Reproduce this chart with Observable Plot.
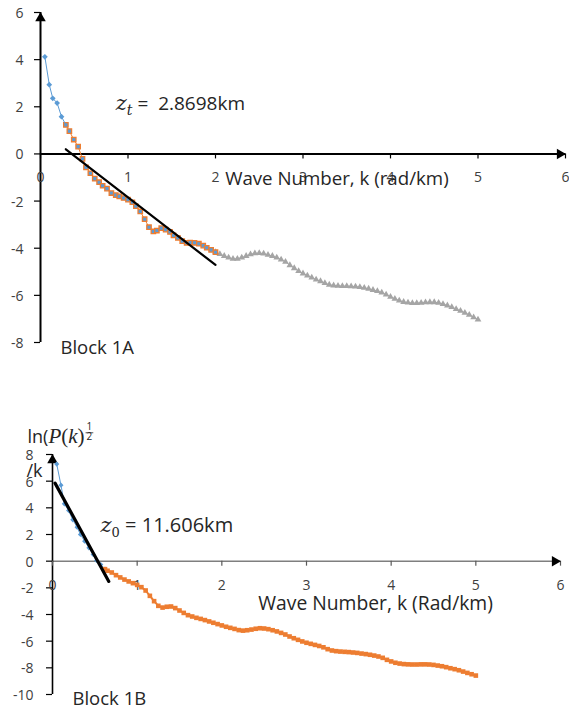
<!DOCTYPE html>
<html>
<head>
<meta charset="utf-8">
<script src="https://cdn.jsdelivr.net/npm/d3@7"></script>
<script src="https://cdn.jsdelivr.net/npm/@observablehq/plot@0.6"></script>
<style>
  html, body { margin: 0; padding: 0; background: #fff; }
  #wrap { position: relative; width: 569px; height: 715px; overflow: hidden; font-family: "Open Sans", sans-serif; }
  #wrap > svg { position: absolute; left: 0; }
</style>
</head>
<body>
<div id="wrap"></div>
<script>
// ---------- shared axis setup ----------
const xDomain = [0, 6];
const xTicks = [0, 1, 2, 3, 4, 5, 6];

// ---------- Block 1A : ln spectrum vs wavenumber ----------
const yDomainA = [-8, 6];
const yTicksA = [-8, -6, -4, -2, 0, 2, 4, 6];

// lowest wavenumbers
const kA1  = [0.05, 0.10, 0.14, 0.19, 0.24, 0.29];
const lnA1 = [4.12, 2.94, 2.36, 2.16, 1.58, 1.23];

// band used for the top-depth fit
const kA2  = [0.29, 0.33, 0.38, 0.43, 0.48, 0.52, 0.57, 0.62, 0.67, 0.71, 0.76, 0.81, 0.86, 0.90, 0.95, 1.00, 1.05, 1.09, 1.14, 1.19,
              1.24, 1.29, 1.33, 1.38, 1.43, 1.48, 1.52, 1.57, 1.62, 1.67, 1.71, 1.76, 1.81, 1.86, 1.90, 1.95, 2.00];
const lnA2 = [1.23, 0.97, 0.61, 0.31, -0.21, -0.57, -0.82, -1.05, -1.20, -1.35, -1.47, -1.66, -1.75, -1.80, -1.87, -1.94, -2.05, -2.22, -2.44, -2.77,
              -3.11, -3.29, -3.25, -3.15, -3.21, -3.31, -3.46, -3.56, -3.70, -3.77, -3.76, -3.77, -3.81, -3.89, -3.98, -4.07, -4.17];

// high-wavenumber tail
const kA3  = [2.00, 2.05, 2.10, 2.15, 2.20, 2.25, 2.30, 2.35, 2.40, 2.45, 2.50, 2.55, 2.60, 2.65, 2.70, 2.75, 2.80, 2.85, 2.90, 2.95,
              3.00, 3.05, 3.10, 3.15, 3.20, 3.25, 3.30, 3.35, 3.40, 3.45, 3.50, 3.55, 3.60, 3.65, 3.70, 3.75, 3.80, 3.85, 3.90, 3.95,
              4.00, 4.05, 4.10, 4.15, 4.20, 4.25, 4.30, 4.35, 4.40, 4.45, 4.50, 4.55, 4.60, 4.65, 4.70, 4.75, 4.80, 4.85, 4.90, 4.95, 5.00];
const lnA3 = [-4.17, -4.25, -4.33, -4.40, -4.45, -4.45, -4.40, -4.33, -4.26, -4.22, -4.21, -4.23, -4.28, -4.33, -4.40, -4.48, -4.58, -4.72, -4.85, -4.97,
              -5.07, -5.16, -5.25, -5.33, -5.40, -5.48, -5.55, -5.58, -5.60, -5.61, -5.61, -5.62, -5.63, -5.65, -5.68, -5.72, -5.77, -5.82, -5.88, -5.97,
              -6.06, -6.15, -6.22, -6.28, -6.31, -6.33, -6.33, -6.32, -6.30, -6.29, -6.29, -6.32, -6.37, -6.43, -6.50, -6.58, -6.66, -6.74, -6.83, -6.93, -7.03];

// straight-line fit: slope = -z_t
const zt = 2.8698;
const fitAIntercept = 1.03;
const fitAk = [0.29, 2.00];

// ---------- Block 1B ----------
const yDomainB = [-10, 8];
const yTicksB = [-10, -8, -6, -4, -2, 0, 2, 4, 6, 8];

// band used for the centroid fit
const kB1  = [0.05, 0.10, 0.14, 0.19, 0.24, 0.29, 0.33, 0.38, 0.43, 0.48, 0.52, 0.57, 0.62];
const lnB1 = [7.28, 5.70, 4.30, 3.80, 3.10, 2.55, 2.00, 1.50, 1.00, 0.50, 0.05, -0.25, -0.60];

const kB2  = [0.62, 0.65, 0.70, 0.75, 0.80, 0.85, 0.90, 0.95, 1.00, 1.05, 1.10, 1.15, 1.20, 1.25, 1.30, 1.35, 1.40, 1.45, 1.50, 1.55,
              1.60, 1.65, 1.70, 1.75, 1.80, 1.85, 1.90, 1.95, 2.00, 2.05, 2.10, 2.15, 2.20, 2.25, 2.30, 2.35, 2.40, 2.45, 2.50, 2.55,
              2.60, 2.65, 2.70, 2.75, 2.80, 2.85, 2.90, 2.95, 3.00, 3.05, 3.10, 3.15, 3.20, 3.25, 3.30, 3.35, 3.40, 3.45, 3.50, 3.55,
              3.60, 3.65, 3.70, 3.75, 3.80, 3.85, 3.90, 3.95, 4.00, 4.05, 4.10, 4.15, 4.20, 4.25, 4.30, 4.35, 4.40, 4.45, 4.50, 4.55,
              4.60, 4.65, 4.70, 4.75, 4.80, 4.85, 4.90, 4.95, 5.00];
const lnB2 = [-0.60, -0.72, -0.85, -1.05, -1.22, -1.38, -1.52, -1.65, -1.78, -1.95, -2.20, -2.60, -3.00, -3.35, -3.48, -3.42, -3.40, -3.52, -3.70, -3.88,
              -4.05, -4.15, -4.25, -4.33, -4.42, -4.52, -4.62, -4.72, -4.82, -4.92, -5.00, -5.08, -5.17, -5.21, -5.18, -5.13, -5.07, -5.03, -5.05, -5.10,
              -5.18, -5.27, -5.38, -5.50, -5.65, -5.78, -5.90, -6.02, -6.12, -6.20, -6.28, -6.36, -6.46, -6.60, -6.70, -6.75, -6.78, -6.80, -6.82, -6.85,
              -6.88, -6.93, -6.97, -7.02, -7.08, -7.15, -7.25, -7.40, -7.52, -7.62, -7.68, -7.72, -7.74, -7.75, -7.75, -7.74, -7.74, -7.75, -7.78, -7.83,
              -7.88, -7.95, -8.03, -8.10, -8.18, -8.28, -8.38, -8.48, -8.58];

// straight-line fit: slope = -z_0
const z0 = 11.606;
const fitBIntercept = 6.2;
const fitBk = [0.03, 0.665];

// ---------- helpers ----------
const BLUE = "#5B9BD5", ORANGE = "#ED7D31", GRAY = "#A5A5A5";
const TEXT = "#262626", TICK = "#404040";
const FONT = "Open Sans";
const MATH = {"font-family": "DejaVu Serif", "font-style": "italic"};
const MATH2 = {"font-family": "Liberation Serif", "font-size": 21};

const rows = (ks, ys) => ks.map((k, i) => ({k, ln: ys[i]}));
const fitRows = (ks, b, slope) => ks.map(k => ({k, ln: b - slope * k}));

function axisMarks({xTicks, yTicks, xDomain, yDomain, xAxisColor, xAxisWidth, yAxisWidth, xTickColor, yLabelDx}) {
  return [
    Plot.ruleY([0], {stroke: xAxisColor, strokeWidth: xAxisWidth}),
    Plot.ruleX([0], {stroke: "black", strokeWidth: yAxisWidth}),
    Plot.ruleX(xTicks, {x: d => d, y1: 0, y2: 0, insetBottom: -5, stroke: xTickColor, strokeWidth: 1.2}),
    Plot.ruleY(yTicks, {y: d => d, x1: 0, x2: 0, insetLeft: -6, stroke: "black", strokeWidth: 1.2}),
    Plot.text(xTicks, {x: d => d, y: 0, dy: 24, text: d => String(d), fontSize: 14, fill: TICK, fontFamily: FONT}),
    Plot.text(yTicks, {x: 0, y: d => d, dx: yLabelDx, dy: 1, text: d => String(d), textAnchor: "end", fontSize: 14, fill: TICK, fontFamily: FONT}),
    // arrow heads at the axis ends
    Plot.dot([xDomain[1]], {x: d => d, y: 0, symbol: "triangle", r: 3.9, rotate: 90, dx: -5.6, fill: "black", stroke: "none"}),
    Plot.dot([yDomain[1]], {x: 0, y: d => d, symbol: "triangle", r: 3.9, dy: 5.6, fill: "black", stroke: "none"})
  ];
}

// replace a placeholder text node with styled runs (italic symbols, subscripts)
function rich(svg, placeholder, parts) {
  const node = Array.from(svg.querySelectorAll("text")).find(el => el.textContent === placeholder);
  const t = d3.select(node);
  t.text(null).style("white-space", "pre");
  for (const p of parts) {
    const s = t.append("tspan").text(p.text);
    for (const [k, v] of Object.entries(p.attrs || {})) s.attr(k, v);
  }
  return t;
}

const wrap = document.getElementById("wrap");

// ---------- Block 1A plot ----------
const blueA = rows(kA1, lnA1), orangeA = rows(kA2, lnA2), grayA = rows(kA3, lnA3);
const fitA = fitRows(fitAk, fitAIntercept, zt);

const plotA = Plot.plot({
  width: 569, height: 372,
  marginLeft: 40, marginRight: 4, marginTop: 12, marginBottom: 30,
  style: {background: "transparent", fontFamily: FONT, overflow: "visible"},
  x: {domain: xDomain, axis: null},
  y: {domain: yDomainA, axis: null},
  marks: [
    ...axisMarks({xTicks, yTicks: yTicksA, xDomain, yDomain: yDomainA, xAxisColor: "black", xAxisWidth: 2, yAxisWidth: 2, xTickColor: "black", yLabelDx: -17}),
    Plot.line(grayA, {x: "k", y: "ln", stroke: GRAY, strokeWidth: 1}),
    Plot.dot(grayA, {x: "k", y: "ln", symbol: "triangle", r: 2.5, fill: GRAY, stroke: "none"}),
    Plot.line(orangeA, {x: "k", y: "ln", stroke: ORANGE, strokeWidth: 1}),
    Plot.dot(orangeA, {x: "k", y: "ln", symbol: "square", r: 2.5, fill: BLUE, stroke: ORANGE, strokeWidth: 1.3}),
    Plot.line(blueA, {x: "k", y: "ln", stroke: BLUE, strokeWidth: 1}),
    Plot.dot(blueA.slice(0, -1), {x: "k", y: "ln", symbol: "diamond2", r: 2.6, fill: BLUE, stroke: "none"}),
    Plot.line(fitA, {x: "k", y: "ln", stroke: "black", strokeWidth: 2.2}),
    Plot.text(["@zt"], {x: 0.86, y: 2.14, textAnchor: "start", fontSize: 19, fill: TEXT, fontFamily: FONT}),
    Plot.text(["Wave Number, k (rad/km)"], {x: 2.11, y: -1.08, textAnchor: "start", fontSize: 18.7, fill: TEXT, fontFamily: FONT}),
    Plot.text(["Block 1A"], {frameAnchor: "bottom-left", dx: 20, dy: 11, textAnchor: "start", fontSize: 18.5, fill: TEXT, fontFamily: FONT})
  ]
});
plotA.style.top = "0px";
wrap.append(plotA);
rich(plotA, "@zt", [
  {text: "z", attrs: {...MATH, "font-size": 21}},
  {text: "t", attrs: {...MATH, "font-size": 14, dy: 5}},
  {text: " =  " + zt + "km", attrs: {dy: -5}}
]);

// ---------- Block 1B plot ----------
const blueB = rows(kB1, lnB1), orangeB = rows(kB2, lnB2);
const fitB = fitRows(fitBk, fitBIntercept, z0);

const plotB = Plot.plot({
  width: 569, height: 315,
  marginLeft: 52, marginRight: 9, marginTop: 54, marginBottom: 21,
  style: {background: "transparent", fontFamily: FONT, overflow: "visible"},
  x: {domain: xDomain, axis: null},
  y: {domain: yDomainB, axis: null},
  marks: [
    ...axisMarks({xTicks, yTicks: yTicksB, xDomain, yDomain: yDomainB, xAxisColor: "#7F7F7F", xAxisWidth: 1.5, yAxisWidth: 1.6, xTickColor: "#595959", yLabelDx: -19}),
    Plot.line(blueB, {x: "k", y: "ln", stroke: BLUE, strokeWidth: 1}),
    Plot.dot(blueB, {x: "k", y: "ln", symbol: "diamond2", r: 2.3, fill: BLUE, stroke: "none"}),
    Plot.line(orangeB, {x: "k", y: "ln", stroke: ORANGE, strokeWidth: 2}),
    Plot.dot(orangeB, {x: "k", y: "ln", symbol: "square", r: 2.6, fill: ORANGE, stroke: "none"}),
    Plot.line(fitB, {x: "k", y: "ln", stroke: "black", strokeWidth: 3.2}),
    Plot.text(["@z0"], {x: 0.567, y: 2.68, textAnchor: "start", fontSize: 20, fill: TEXT, fontFamily: FONT}),
    Plot.text(["Wave Number, k (Rad/km)"], {x: 2.43, y: -3.19, textAnchor: "start", fontSize: 19.3, fill: TEXT, fontFamily: FONT}),
    Plot.text(["Block 1B"], {frameAnchor: "bottom-left", dx: 20, dy: 10, textAnchor: "start", fontSize: 18.5, fill: TEXT, fontFamily: FONT}),
    Plot.text(["@ylabel"], {frameAnchor: "top-left", dx: -25, dy: -24, textAnchor: "start", fontSize: 18, fill: TEXT, fontFamily: FONT}),
    Plot.text(["/k"], {frameAnchor: "top-left", dx: -26, dy: 10, textAnchor: "start", fontSize: 18, fill: TEXT, fontFamily: FONT})
  ]
});
plotB.style.top = "400px";
wrap.append(plotB);
rich(plotB, "@z0", [
  {text: "z", attrs: {...MATH, "font-size": 21}},
  {text: "0", attrs: {"font-family": "DejaVu Serif", "font-size": 13, dy: 5}},
  {text: " = " + z0 + "km", attrs: {dy: -5}}
]);
const yl = rich(plotB, "@ylabel", [
  {text: "ln("},
  {text: "P", attrs: {...MATH2, "font-style": "italic"}},
  {text: "(", attrs: MATH2},
  {text: "k", attrs: {...MATH2, "font-style": "italic"}},
  {text: ")", attrs: MATH2},
  {text: "1", attrs: {"font-size": 10, dx: 2, dy: -13}},
  {text: "2", attrs: {"font-size": 10, dx: -5.7, dy: 10}}
]);
// fraction bar between the stacked 1 and 2
{
  const tn = yl.node();
  const i1 = tn.textContent.length - 2;
  const a = tn.getStartPositionOfChar(i1), b = tn.getEndPositionOfChar(i1);
  d3.select(tn.parentNode).append("line")
    .attr("transform", yl.attr("transform"))
    .attr("x1", a.x - 1).attr("x2", b.x + 1)
    .attr("y1", a.y + 2.5).attr("y2", a.y + 2.5)
    .attr("stroke", TEXT).attr("stroke-width", 0.8);
}
</script>
</body>
</html>
